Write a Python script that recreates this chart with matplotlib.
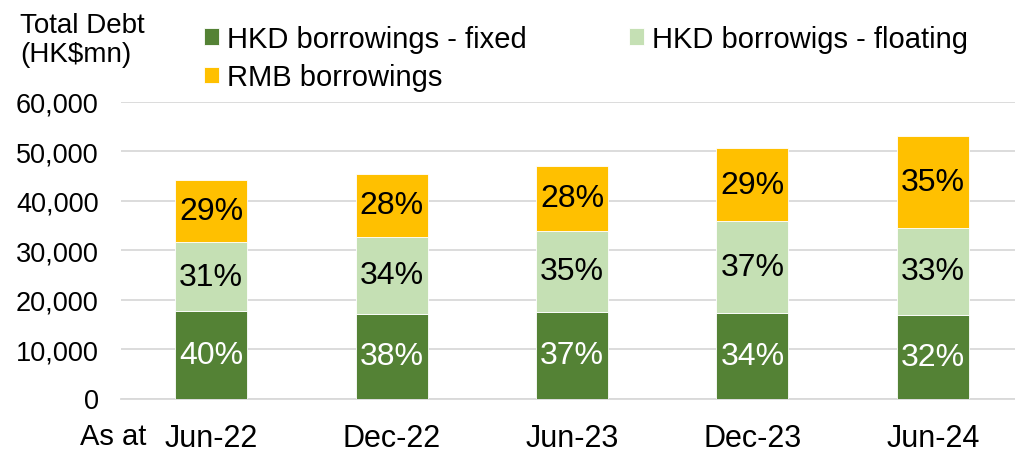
import matplotlib
matplotlib.use("Agg")
import matplotlib.pyplot as plt
import numpy as np

plt.rcParams["font.family"] = ["Liberation Sans", "DejaVu Sans"]

# data (HK$mn)
periods = ["Jun-22", "Dec-22", "Jun-23", "Dec-23", "Jun-24"]
hkd_fixed = [17710, 17110, 17510, 17310, 16900]
hkd_floating = [13910, 15580, 16460, 18620, 17610]
rmb = [12670, 12760, 13100, 14720, 18690]

pct_fixed = ["40%", "38%", "37%", "34%", "32%"]
pct_floating = ["31%", "34%", "35%", "37%", "33%"]
pct_rmb = ["29%", "28%", "28%", "29%", "35%"]

c_fixed = "#548235"
c_float = "#C5E0B4"
c_rmb = "#FFC000"

W, H = 1015, 452
fig = plt.figure(figsize=(W / 100, H / 100), dpi=100)
ax = fig.add_axes([121 / W, (H - 399.5) / H, 902 / W, 296.5 / H])

x = np.arange(len(periods))
bw = 0.4
b1 = ax.bar(x, hkd_fixed, bw, color=c_fixed, edgecolor="white", linewidth=0.6,
            label="HKD borrowings - fixed", zorder=3)
bottom2 = np.array(hkd_fixed)
b2 = ax.bar(x, hkd_floating, bw, bottom=bottom2, color=c_float, edgecolor="white",
            linewidth=0.6, label="HKD borrowigs - floating", zorder=3)
bottom3 = bottom2 + np.array(hkd_floating)
b3 = ax.bar(x, rmb, bw, bottom=bottom3, color=c_rmb, edgecolor="white",
            linewidth=0.6, label="RMB borrowings", zorder=3)

ax.bar_label(b1, labels=pct_fixed, label_type="center", color="white", fontsize=23)
ax.bar_label(b2, labels=pct_floating, label_type="center", color="black", fontsize=23)
ax.bar_label(b3, labels=pct_rmb, label_type="center", color="black", fontsize=23)

ax.set_xlim(-0.5, 4.5)
ax.set_ylim(0, 60000)
ax.set_yticks(range(0, 60001, 10000))
ax.set_yticklabels([f"{v:,}" for v in range(0, 60001, 10000)])
ax.set_xticks(x)
ax.set_xticklabels(periods)
ax.tick_params(axis="y", length=0, pad=16, labelsize=19.5)
ax.tick_params(axis="x", length=0, pad=17.5, labelsize=22)
ax.grid(axis="y", color="#d9d9d9", linewidth=1.3, zorder=0)
for s in ["top", "right", "left"]:
    ax.spines[s].set_visible(False)
ax.spines["bottom"].set_color("#d9d9d9")
ax.spines["bottom"].set_linewidth(1.3)

fig.text(20 / W, 1 - 13 / H, "Total Debt\n(HK$mn)", fontsize=20, va="top", ha="left",
         linespacing=1.15)
fig.text(80 / W, 1 - 437 / H, "As at", fontsize=21, va="center", ha="left")

leg = fig.legend([b1, b3, b2],
                 ["HKD borrowings - fixed", "RMB borrowings", "HKD borrowigs - floating"],
                 ncol=2, loc="upper left", bbox_to_anchor=(204 / W, 1 - 26 / H),
                 frameon=False, fontsize=21, handlelength=0.5, handleheight=0.5,
                 handletextpad=0.3, columnspacing=3.5, labelspacing=0.36,
                 borderpad=0, borderaxespad=0)

fig.savefig("out.png", dpi=100)
